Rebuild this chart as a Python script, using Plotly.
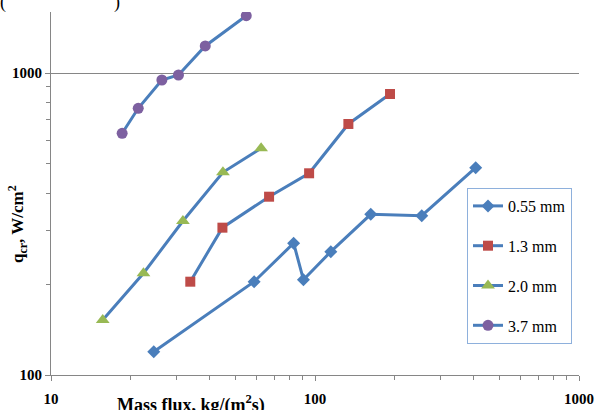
import plotly.graph_objects as go

# ---- data ----
series_names = ["0.55 mm", "1.3 mm", "2.0 mm", "3.7 mm"]

g_055 = [24.5, 58.8, 83.0, 90.4, 114.8, 162.6, 253.7, 406.1]
q_055 = [119.4, 203.7, 273.2, 206.8, 256.1, 340.5, 336.9, 485.8]

g_13 = [33.7, 44.6, 67.0, 95.0, 133.8, 192.4]
q_13 = [203.7, 307.5, 389.4, 465.5, 678.0, 852.0]

g_20 = [15.7, 22.4, 31.6, 44.8, 62.5]
q_20 = [152.1, 217.2, 323.6, 469.0, 563.3]

g_37 = [18.6, 21.4, 26.3, 30.4, 38.4, 54.9]
q_37 = [631.4, 764.0, 948.0, 985.0, 1229.0, 1548.0]

x_tickvals = [10, 100, 1000]
x_ticktext = ["10", "100", "1000"]
y_tickvals = [100, 1000]
y_ticktext = ["100", "1000"]

# ---- styles ----
LINE = "#4A7EBB"
AXIS = "#868686"
FONT = "Liberation Serif"
styles = [
    dict(symbol="diamond", color="#4A7EBB", size=10),
    dict(symbol="square", color="#BE4B48", size=10),
    dict(symbol="triangle-up", color="#98B954", size=12),
    dict(symbol="circle", color="#7D60A0", size=11),
]
xs = [g_055, g_13, g_20, g_37]
ys = [q_055, q_13, q_20, q_37]

fig = go.Figure()
for i, (name, x, y, st) in enumerate(zip(series_names, xs, ys, styles)):
    fig.add_trace(go.Scatter(
        x=x, y=y, name=name, mode="lines+markers",
        legendgroup=f"g{i}",
        line=dict(color=LINE, width=3),
        marker=dict(symbol=st["symbol"], color=st["color"], size=st["size"],
                    line=dict(width=0)),
    ))

fig.update_layout(
    width=598, height=410,
    margin=dict(l=51, r=19, t=12, b=35, autoexpand=False),
    paper_bgcolor="white", plot_bgcolor="white",
    font=dict(family=FONT, color="black"),
    showlegend=True,
    legend=dict(
        x=(467 - 51) / 528, y=(375 - 188) / 363, xanchor="left", yanchor="top",
        bordercolor="#8EB0DC", borderwidth=1,
        font=dict(family=FONT, size=16, color="black"),
        tracegroupgap=16, itemwidth=30,
        bgcolor="white",
    ),
)

fig.update_xaxes(
    type="log", range=[1, 3], automargin=False,
    showline=True, linecolor=AXIS, linewidth=1,
    showgrid=False, zeroline=False,
    ticks="outside", ticklen=5, tickcolor=AXIS,
    tickvals=x_tickvals, ticktext=x_ticktext,
    tickfont=dict(family=FONT, size=15, color="black", weight="bold"),
    ticklabelstandoff=5,
    minor=dict(ticks="outside", ticklen=4, tickcolor=AXIS, dtick="D1", showgrid=False),
)
fig.update_yaxes(
    type="log", range=[2, 3.202], automargin=False,
    showline=True, linecolor=AXIS, linewidth=1,
    showgrid=True, gridcolor=AXIS, gridwidth=1, zeroline=False,
    ticks="outside", ticklen=5, tickcolor=AXIS,
    tickvals=y_tickvals, ticktext=y_ticktext,
    tickfont=dict(family=FONT, size=15, color="black", weight="bold"),
    minor=dict(ticks="outside", ticklen=4, tickcolor=AXIS, dtick="D1", showgrid=False),
)

fig.add_annotation(
    text="Mass flux, kg/(m<sup>2</sup>s)", xref="paper", yref="paper",
    x=(191 - 51) / 528, y=(375 - 404) / 363, xanchor="center", yanchor="middle",
    showarrow=False, font=dict(family=FONT, size=18, color="black", weight="bold"),
)
fig.add_annotation(
    text="q<sub>cr</sub>, W/cm<sup>2</sup>", xref="paper", yref="paper",
    x=(17 - 51) / 528, y=(375 - 224) / 363, xanchor="center", yanchor="middle",
    textangle=-90, showarrow=False,
    font=dict(family=FONT, size=17, color="black", weight="bold"),
)
fig.add_annotation(
    text="(" + "\u00a0" * 24 + ")", xref="paper", yref="paper",
    x=(-2 - 51) / 528, y=(375 - 15) / 363, xanchor="left", yanchor="bottom",
    showarrow=False, font=dict(family=FONT, size=18, color="black"),
)

fig.write_html(
    "out.html",
    config={"displayModeBar": False},
    post_script="document.body.style.margin='0';document.body.style.overflow='hidden';",
)
